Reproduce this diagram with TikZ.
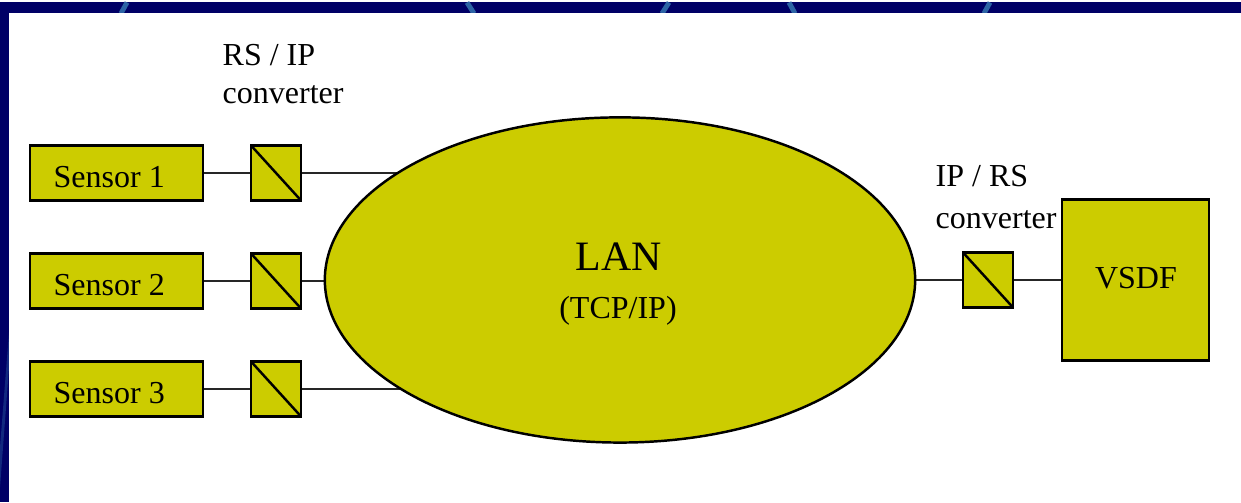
\documentclass[tikz,border=0pt]{standalone}
\usepackage{fontspec}
\setmainfont{Liberation Serif}
\usetikzlibrary{shapes.geometric,backgrounds}
\definecolor{navy}{HTML}{000066}
\definecolor{streak}{HTML}{2D64A5}
\definecolor{olive}{HTML}{CCCC00}
\begin{document}
\begin{tikzpicture}[x=0.01cm,y=-0.01cm,
  every node/.style={font=\fontsize{9.1}{11}\selectfont},
  unitbox/.style={draw=black, line width=0.7pt, fill=olive, inner sep=0pt},
  sensorbox/.style={unitbox, minimum width=1.73cm, minimum height=0.55cm},
  convbox/.style={unitbox, minimum width=0.5cm, minimum height=0.55cm,
    path picture={\draw[line width=0.7pt] (path picture bounding box.north west)
      -- (path picture bounding box.south east);}},
  wire/.style={draw=black!85, line width=0.7pt},
  caption/.style={anchor=base west, inner sep=0pt},
  bandmark/.style={streak, line width=1.4pt}]

% slide backdrop
\begin{scope}[on background layer]
  \fill[navy] (0,0) rectangle (1241,500);
  \fill[streak!40!navy] (9,330) -- (9,365) -- (0,485) -- (0,445) -- cycle;
  \draw[bandmark] (127,0) -- (121,11);
  \draw[bandmark] (467,0) -- (474,11);
  \draw[bandmark] (669,0) -- (662,11);
  \draw[bandmark] (789,0) -- (795,11);
  \draw[bandmark] (990,0) -- (984,11);
  \fill[white] (9,11) rectangle (1241,500);
\end{scope}

% sensors
\node[sensorbox] (s1) at (116.5,170.5) {};
\node[sensorbox] (s2) at (116.5,278.5) {};
\node[sensorbox] (s3) at (116.5,386.5) {};
\node[caption] (t1) at (53,185) {Sensor 1};
\node[caption] (t2) at (53,293) {Sensor 2};
\node[caption] (t3) at (53,401) {Sensor 3};

% RS/IP converters
\node[convbox] (c1) at (276,170.5) {};
\node[convbox] (c2) at (276,278.5) {};
\node[convbox] (c3) at (276,386.5) {};
\node[caption] (l1) at (222,63) {RS / IP};
\node[caption] (l2) at (222,101) {converter};

% network
\node[unitbox, ellipse, minimum width=5.9cm, minimum height=3.25cm] (lan) at (620,277.5) {};
\node[anchor=base, inner sep=0pt, font=\fontsize{11.9}{14}\selectfont] (lant) at (619,268) {LAN};
\node[anchor=base, inner sep=0pt] (tcp) at (618,316) {(TCP/IP)};

% IP/RS converter and VSDF
\node[convbox] (c4) at (988,277.5) {};
\node[caption] (l3) at (935,184) {IP / RS};
\node[caption] (l4) at (935,226) {converter};
\node[unitbox, minimum width=1.47cm, minimum height=1.61cm] (vsdf) at (1135.5,277.5) {};
\node[anchor=base, inner sep=0pt] (vt) at (1136,286) {VSDF};

% wiring
\draw[wire] (s1) -- (c1);
\draw[wire] (s2) -- (c2);
\draw[wire] (s3) -- (c3);
\draw[wire] (c4) -- (vsdf);
\begin{scope}[on background layer]
  \draw[wire] (c1) -- (c1 -| lan);
  \draw[wire] (c2) -- (c2 -| lan);
  \draw[wire] (c3) -- (c3 -| lan);
  \draw[wire] (lan) -- (c4);
\end{scope}
\end{tikzpicture}
\end{document}
